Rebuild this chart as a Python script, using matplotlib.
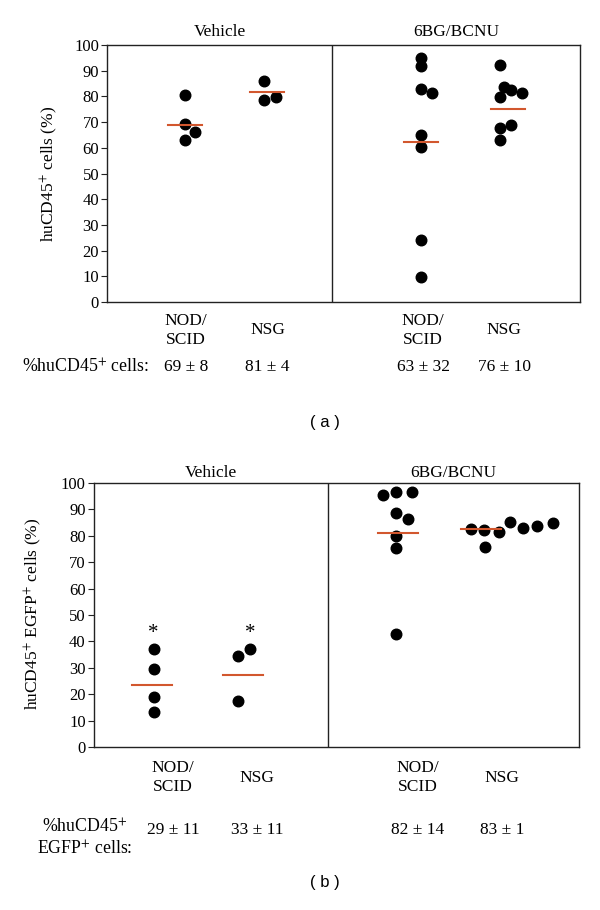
import matplotlib
matplotlib.use('Agg')
import matplotlib.pyplot as plt
import matplotlib.transforms as mtransforms
import numpy as np

plt.rcParams['font.family'] = ['Liberation Serif', 'DejaVu Serif']
plt.rcParams['mathtext.fontset'] = 'stix'

# ---- data, panel (a): huCD45+ cells (%)
a_veh_nod = [80.5, 69.1, 66.2, 63.1]
a_veh_nsg = [86.2, 78.8, 79.7]
a_bcnu_nod = [95.1, 91.8, 82.9, 81.4, 64.9, 60.4, 24.0, 9.7]
a_bcnu_nsg = [92.3, 83.8, 82.5, 81.4, 79.6, 68.8, 67.8, 63.1]
a_mean_lines = [68.8, 81.8, 62.1, 75.3]
a_stats = ['69 ± 8', '81 ± 4', '63 ± 32', '76 ± 10']

# ---- data, panel (b): huCD45+ EGFP+ cells (%)
b_veh_nod = [37.2, 29.4, 18.8, 13.3]
b_veh_nsg = [34.6, 37.2, 17.5]
b_bcnu_nod = [95.6, 96.6, 96.6, 88.5, 86.2, 79.9, 75.3, 42.7]
b_bcnu_nsg = [82.7, 82.2, 81.6, 75.9, 85.2, 83.1, 83.6, 85.0]
b_mean_lines = [23.5, 27.1, 81.2, 82.4]
b_stats = ['29 ± 11', '33 ± 11', '82 ± 14', '83 ± 1']

strains = ['NOD/\nSCID', 'NSG', 'NOD/\nSCID', 'NSG']
treatments = ['Vehicle', '6BG/BCNU']

# ---- layout (x axis runs 0..10, divider between treatments)
a_pos = [1.65, 3.38, 6.63, 8.47]
a_offsets = [[0, 0, 0.2, 0],
             [-0.07, -0.07, 0.18],
             [0, 0, 0, 0.23, 0, 0, 0, 0],
             [-0.16, -0.08, 0.07, 0.30, -0.16, 0.07, -0.16, -0.16]]
a_label_pos = [1.66, 3.39, 6.68, 8.39]
a_divider = 4.75

b_pos = [1.2, 3.07, 6.27, 7.99]
b_offsets = [[0.03, 0.03, 0.03, 0.03],
             [-0.09, 0.15, -0.09],
             [-0.31, -0.04, 0.28, -0.04, 0.21, -0.04, -0.04, -0.04],
             [-0.22, 0.06, 0.37, 0.07, 0.59, 0.85, 1.15, 1.48]]
b_label_pos = [1.63, 3.36, 6.68, 8.41]
b_divider = 4.82

line_color = '#d2572e'
edge = '#222222'


def draw_panel(ax, groups, pos, offsets, means, half, divider):
    for g, p, off, m in zip(groups, pos, offsets, means):
        ax.plot(np.array(off) + p, g, 'o', color='black', ms=7.6, zorder=2,
                clip_on=False)
        ax.plot([p - half, p + half], [m, m], color=line_color, lw=1.5, zorder=3)
    ax.axvline(divider, color=edge, lw=1.0)
    ax.set_xlim(0, 10)
    ax.set_ylim(0, 100)
    ax.set_yticks(np.arange(0, 101, 10))
    ax.set_xticks([])
    ax.tick_params(axis='y', direction='out', length=4, width=0.8,
                   labelsize=12, color=edge, pad=2)
    for s in ax.spines.values():
        s.set_color(edge)
        s.set_linewidth(1.0)
    for t, x in zip(treatments, [divider / 2, (divider + 10) / 2]):
        ax.text(x, 1.0, t, transform=mtransforms.blended_transform_factory(
            ax.transData, ax.transAxes), ha='center', va='baseline',
            fontsize=12.5)


fig = plt.figure(figsize=(6, 9.1), dpi=100)

# panel (a)
ax_a = fig.add_axes([0.179, 0.6681, 0.788, 0.2824])
draw_panel(ax_a, [a_veh_nod, a_veh_nsg, a_bcnu_nod, a_bcnu_nsg],
           a_pos, a_offsets, a_mean_lines, 0.36, a_divider)
for t in ax_a.texts:
    t.set_y(1.035)
tr_a = mtransforms.blended_transform_factory(ax_a.transData, ax_a.transAxes)
for x, s, v in zip(a_label_pos, strains, a_stats):
    ax_a.text(x, -0.109, s, transform=tr_a, ha='center', va='center',
              fontsize=12.5, linespacing=1.25)
    ax_a.text(x, -0.253, v, transform=tr_a, ha='center', va='center',
              fontsize=12.5)
fig.text(21.7 / 600, 1 - 367 / 910, '%huCD45$^{+}$ cells:', ha='left',
         va='center', fontsize=12.8)
fig.text(49 / 600, 1 - 174 / 910, 'huCD45$^{+}$ cells (%)', rotation=90,
         ha='center', va='center', fontsize=12.5)
fig.text(325 / 600, 1 - 422 / 910, '( a )', family='Liberation Sans',
         ha='center', va='center', fontsize=12)

# panel (b)
ax_b = fig.add_axes([0.1567, 0.1791, 0.808, 0.2901])
draw_panel(ax_b, [b_veh_nod, b_veh_nsg, b_bcnu_nod, b_bcnu_nsg],
           b_pos, b_offsets, b_mean_lines, 0.41, b_divider)
for t in ax_b.texts:
    t.set_y(1.023)
for x in [b_pos[0] + 0.03, b_pos[1] + 0.15]:
    ax_b.text(x, 43, '*', ha='center', va='center', fontsize=15)
tr_b = mtransforms.blended_transform_factory(ax_b.transData, ax_b.transAxes)
for x, s, v in zip(b_label_pos, strains, b_stats):
    ax_b.text(x, -0.117, s, transform=tr_b, ha='center', va='center',
              fontsize=12.5, linespacing=1.25)
    ax_b.text(x, -0.314, v, transform=tr_b, ha='center', va='center',
              fontsize=12.5)
fig.text(85 / 600, 1 - 838 / 910, '%huCD45$^{+}$\nEGFP$^{+}$ cells:',
         ha='center', va='center', fontsize=12.8, linespacing=1.2)
fig.text(33 / 600, 1 - 614 / 910, 'huCD45$^{+}$ EGFP$^{+}$ cells (%)',
         rotation=90, ha='center', va='center', fontsize=12.5)
fig.text(325 / 600, 1 - 883 / 910, '( b )', family='Liberation Sans',
         ha='center', va='center', fontsize=12)

fig.savefig('out.png', dpi=100)
